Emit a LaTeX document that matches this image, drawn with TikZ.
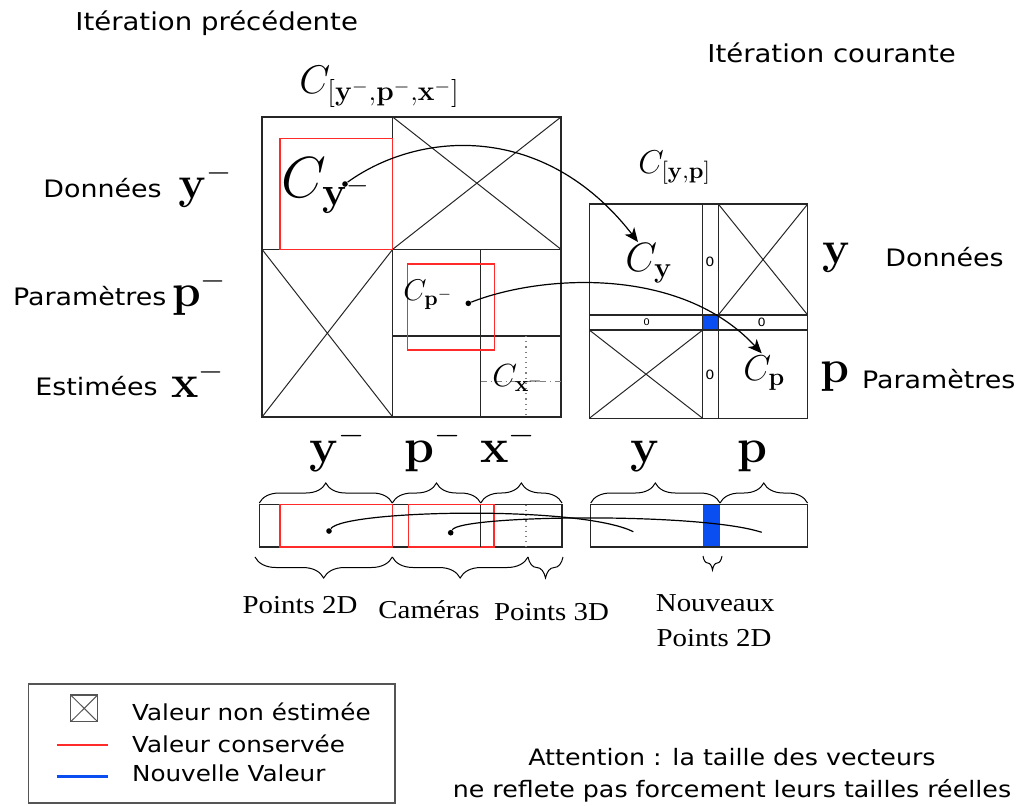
\RequirePackage{fix-cm}
\documentclass[tikz,border=0pt]{standalone}
\usepackage[no-math]{fontspec}
\setmainfont{DejaVu Sans}[FakeStretch=1.12]
\newfontfamily\timesfont{Liberation Serif}[FakeStretch=1.12]
\usetikzlibrary{arrows.meta, decorations.pathreplacing, positioning}
\definecolor{OldRed}{HTML}{FF2A2A}
\definecolor{NewBlue}{HTML}{0A4DF0}
\definecolor{FrameGray}{HTML}{555555}
\tikzset{
    % Text styles
    title text/.style={
        inner sep=0pt,
        anchor=base west,
        font=\fontsize{12.3}{14}\selectfont
    },
    side text/.style={
        inner sep=0pt,
        anchor=base west,
        font=\fontsize{12}{14}\selectfont
    },
    vec text/.style={
        inner sep=0pt,
        anchor=base,
        font=\timesfont\fontsize{12.9}{15}\selectfont
    },
    legend text/.style={
        inner sep=0pt,
        anchor=base west,
        font=\fontsize{11}{13}\selectfont
    },
    note text/.style={
        inner sep=0pt,
        anchor=base,
        font=\fontsize{11.3}{13}\selectfont
    },
    axis math/.style={
        inner sep=0pt,
        anchor=base west,
        font=\fontsize{23}{25}\selectfont
    },
    cov math/.style={
        inner sep=0pt,
        anchor=base west
    },
    zero text/.style={
        inner sep=0pt,
        font=\fontsize{6.4}{7}\selectfont
    },
    % Block styles
    matrix line/.style={
        draw=black!85,
        line width=0.7pt
    },
    crossed/.style={
        matrix line,
        path picture={
            \draw[line width=0.5pt]
                (path picture bounding box.north west) -- (path picture bounding box.south east)
                (path picture bounding box.south west) -- (path picture bounding box.north east);
        }
    },
    old value/.style={
        draw=OldRed,
        line width=0.7pt
    },
    % Connectors
    start dot/.style={
        circle,
        fill=black,
        inner sep=0pt,
        minimum size=2.8pt
    },
    arrow style/.style={
        -{Stealth[length=7pt,width=6pt,inset=2pt]},
        line width=0.6pt
    },
    link style/.style={
        line width=0.6pt
    },
    brace up/.style={
        decorate,
        decoration={brace, amplitude=10pt},
        line width=0.5pt
    },
    brace down/.style={
        decorate,
        decoration={brace, amplitude=10.5pt, mirror},
        line width=0.5pt
    }
}

\begin{document}
\begin{tikzpicture}[x=0.5pt, y=-0.5pt]
    \useasboundingbox (0,0) rectangle (1021,805);

    % titles
    \node[title text] (prevtitle) at (75,30) {Itération précédente};
    \node[title text] (curtitle) at (707,62) {Itération courante};
    \node[cov math, font=\fontsize{20}{22}\selectfont] (covprev) at (299,93) {$C_{[\mathbf{y}^-,\mathbf{p}^-,\mathbf{x}^-]}$};
    \node[cov math, font=\fontsize{16.5}{18}\selectfont] (covcur) at (638,173) {$C_{[\mathbf{y},\mathbf{p}]}$};

    % previous covariance
    \draw[matrix line] (262,117) rectangle (561,417);
    \draw[crossed] (392.7,117) rectangle (561,249.3);
    \draw[crossed] (262,249.3) rectangle (392.7,417);
    \draw[matrix line] (480.7,249.3) -- (480.7,417) (392.7,336) -- (561,336);
    \draw[old value] (280,138.3) rectangle (392.7,249.3);
    \draw[old value] (407.3,264) rectangle (494.3,350);
    \draw[gray, dotted, line width=0.6pt] (526,336) -- (526,417);
    \draw[gray, dash dot, line width=0.6pt] (480.7,381.7) -- (561,381.7);

    % current covariance
    \draw[matrix line] (589.3,204) rectangle (807.7,418.3);
    \draw[crossed] (718.3,204) rectangle (807.7,315);
    \draw[crossed] (589.3,330) rectangle (702.7,418.3);
    \fill[NewBlue] (702.7,315) rectangle (718.3,330);
    \draw[matrix line] (702.7,204) -- (702.7,418.3) (718.3,204) -- (718.3,418.3)
        (589.3,315) -- (807.7,315) (589.3,330) -- (807.7,330);
    \node[zero text] (zup) at (710,261.7) {0};
    \node[zero text] (zdown) at (710,375) {0};
    \node[zero text, font=\fontsize{4.6}{5}\selectfont] (zleft) at (646.7,322.5) {0};
    \node[zero text, font=\fontsize{5.7}{6}\selectfont] (zright) at (761.7,322.5) {0};

    % blocks
    \node[cov math, font=\fontsize{29}{31}\selectfont] (cym) at (281,197) {$C_{\mathbf{y}^-}$};
    \node[cov math, font=\fontsize{15}{17}\selectfont] (cpm) at (403,300) {$C_{\mathbf{p}^-}$};
    \node[cov math, font=\fontsize{16}{18}\selectfont] (cxm) at (492,386.7) {$C_{\mathbf{x}^-}$};
    \node[cov math, font=\fontsize{20.5}{22}\selectfont] (cy) at (625,271.7) {$C_{\mathbf{y}}$};
    \node[cov math, font=\fontsize{18}{20}\selectfont] (cp) at (743,380) {$C_{\mathbf{p}}$};

    % side labels
    \node[side text] (dataprev) at (43,197) {Données};
    \node[axis math] (yprev) at (178,198) {$\mathbf{y}^-$};
    \node[side text] (paramprev) at (12.7,305) {Paramètres};
    \node[axis math] (pprev) at (171.7,306) {$\mathbf{p}^-$};
    \node[side text] (estprev) at (35,395) {Estimées};
    \node[axis math] (xprev) at (170.7,397) {$\mathbf{x}^-$};
    \node[axis math] (ycur) at (821.7,263) {$\mathbf{y}$};
    \node[side text] (datacur) at (885,266.7) {Données};
    \node[axis math] (pcur) at (820,382) {$\mathbf{p}$};
    \node[side text] (paramcur) at (861.7,388) {Paramètres};

    % column labels
    \node[axis math, font=\fontsize{24}{26}\selectfont] (ycolprev) at (309,462) {$\mathbf{y}^-$};
    \node[axis math, font=\fontsize{24}{26}\selectfont] (pcolprev) at (404,462) {$\mathbf{p}^-$};
    \node[axis math, font=\fontsize{24}{26}\selectfont] (xcolprev) at (480,462) {$\mathbf{x}^-$};
    \node[axis math, font=\fontsize{24}{26}\selectfont] (ycolcur) at (630,462) {$\mathbf{y}$};
    \node[axis math, font=\fontsize{24}{26}\selectfont] (pcolcur) at (737,462) {$\mathbf{p}$};

    % vectors
    \draw[matrix line] (259.3,504.7) rectangle (562,547);
    \draw[old value] (280,504.7) rectangle (392.3,547);
    \draw[old value] (408.3,504.7) rectangle (494,547);
    \draw[matrix line] (480.7,504.7) -- (480.7,547);
    \draw[gray, dotted, line width=0.6pt] (526,504.7) -- (526,547);
    \fill[NewBlue] (703,504.7) rectangle (720,547);
    \draw[matrix line] (590.7,504.7) rectangle (807.5,547);

    \draw[brace up] (259.3,503) -- (392.3,503);
    \draw[brace up] (392.3,503) -- (480.7,503);
    \draw[brace up] (480.7,503) -- (562,503);
    \draw[brace up] (590.7,503) -- (720,503);
    \draw[brace up] (720,503) -- (807.5,503);
    \draw[brace down] (255,557) -- (392.3,557);
    \draw[brace down] (392.3,557) -- (528,557);
    \draw[brace down] (528,557) -- (563,557);
    \draw[brace down, decoration={amplitude=7pt}] (703,556) -- (722,556);

    \node[vec text] (pts2d) at (300,613) {Points 2D};
    \node[vec text] (cams) at (429,618) {Caméras};
    \node[vec text] (pts3d) at (551.5,620) {Points 3D};
    \node[vec text] (newpts) at (715.3,611.7) {Nouveaux};
    \node[vec text] (newpts2d) at (714,646.7) {Points 2D};

    % connectors
    \node[start dot] (dotym) at (345,184) {};
    \coordinate (cytip) at (638,242);
    \draw[arrow style] (dotym) .. controls (420,130) and (545,122) .. (cytip);
    \node[start dot] (dotpm) at (468.3,303.3) {};
    \coordinate (cptip) at (761.7,353.3);
    \draw[arrow style] (dotpm) .. controls (540,275) and (680,265) .. (cptip);

    \node[start dot] (dotvy) at (329,531) {};
    \coordinate (vyend) at (633.3,531.7);
    \draw[link style] (dotvy) .. controls (345,510) and (580,505) .. (vyend);
    \node[start dot] (dotvp) at (450.7,532.7) {};
    \coordinate (vpend) at (761.7,532.3);
    \draw[link style] (dotvp) .. controls (460,515) and (700,512) .. (vpend);

    % legend
    \draw[FrameGray, line width=0.6pt] (28.3,684) rectangle (395,803);
    \draw[crossed, draw=FrameGray] (70.7,695) rectangle (97.7,721.7);
    \draw[OldRed, line width=1.3pt] (56.7,745) -- (108.3,745);
    \draw[NewBlue, line width=1.3pt] (56.7,776.7) -- (108.3,776.7);
    \node[legend text] (legnone) at (131.7,720) {Valeur non éstimée};
    \node[legend text] (legold) at (131.7,752.7) {Valeur conservée};
    \node[legend text] (legnew) at (131.7,781.7) {Nouvelle Valeur};

    \node[note text] (noteone) at (732,765.7) {Attention : la taille des vecteurs};
    \node[note text] (notetwo) at (732,797) {ne reflete pas forcement leurs tailles réelles};
\end{tikzpicture}
\end{document}
